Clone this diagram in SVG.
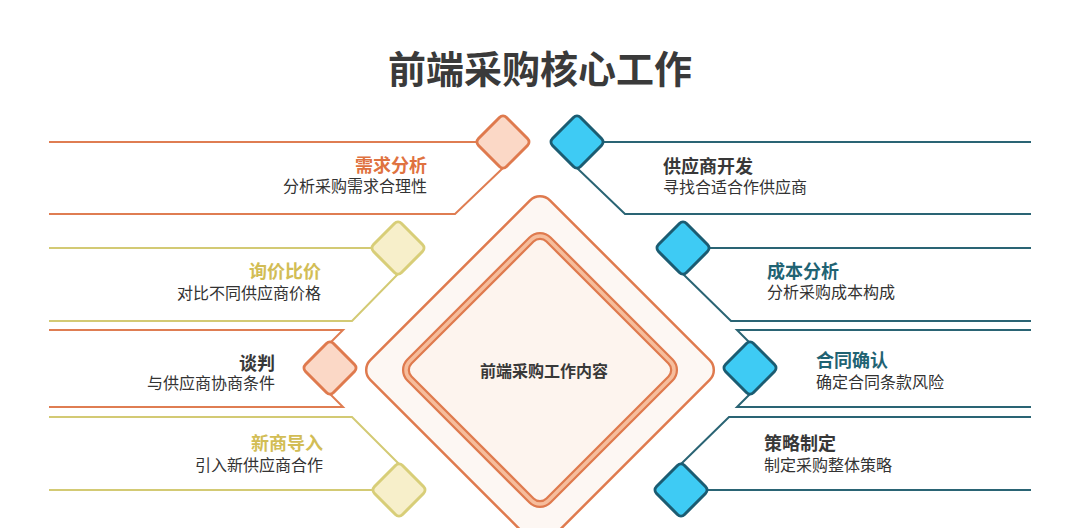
<svg xmlns="http://www.w3.org/2000/svg" xmlns:xlink="http://www.w3.org/1999/xlink" width="1080" height="528" viewBox="0 0 1080 528">
<style>
text{font-family:"Noto Sans CJK SC","Noto Sans",sans-serif}
.ttl{font-size:38px;font-weight:700;fill:#3a3a3a}
.h{font-size:18px;font-weight:700}
.s{font-size:16px;fill:#333}
.ho{fill:#df7240}.hy{fill:#d2bd55}.hd{fill:#383838}.ht{fill:#1f6373}
.lo{fill:none;stroke:#df7d52;stroke-width:2}
.ly{fill:none;stroke:#d3ca74;stroke-width:2}
.lt{fill:none;stroke:#2a6474;stroke-width:2}
.dor{fill:#fbd8c6;stroke:#df7a4e;stroke-width:3}
.dye{fill:#f7efca;stroke:#d8ce78;stroke-width:3}
.dte{fill:#3ecbf4;stroke:#1b5c72;stroke-width:3}
</style>
<defs>
<rect id="dm" x="-19.8" y="-19.8" width="39.6" height="39.6" rx="5" transform="rotate(45)"/>
</defs>
<rect width="1080" height="528" fill="#ffffff"/>
<text class="ttl" x="540" y="83" text-anchor="middle">前端采购核心工作</text>
<g id="connectors">
<polyline class="lo" points="49,142 477,142"/>
<polyline class="lo" points="49,214 455,214 503,168"/>
<polyline class="ly" points="49,248 372,248"/>
<polyline class="ly" points="49,321 352,321 398,274"/>
<polyline class="lo" points="49,330 343,330 330,343"/>
<polyline class="lo" points="49,407 343,407 330,394"/>
<polyline class="ly" points="49,417 352,417 399,464"/>
<polyline class="ly" points="49,490 373,490"/>
<polyline class="lt" points="603,142 1031,142"/>
<polyline class="lt" points="577,168 625,214 1031,214"/>
<polyline class="lt" points="709,248 1031,248"/>
<polyline class="lt" points="683,274 731,321 1031,321"/>
<polyline class="lt" points="1031,330 737,330 750,343"/>
<polyline class="lt" points="1031,407 737,407 750,394"/>
<polyline class="lt" points="681,464 729,417 1031,417"/>
<polyline class="lt" points="707,490 1031,490"/>
</g>
<g id="center">
<rect x="-127" y="-127" width="254" height="254" rx="14" transform="translate(540,370) rotate(45)" fill="#fdf7f3" stroke="#df7a4e" stroke-width="2.5"/>
<rect x="-98.3" y="-98.3" width="196.6" height="196.6" rx="12" transform="translate(540,370) rotate(45)" fill="#fdf4ee" stroke="#df7a4e" stroke-width="8"/>
<rect x="-98.3" y="-98.3" width="196.6" height="196.6" rx="12" transform="translate(540,370) rotate(45)" fill="none" stroke="#f6bd9c" stroke-width="3.5"/>
<text x="544" y="377" text-anchor="middle" font-size="16" font-weight="700" fill="#383838">前端采购工作内容</text>
</g>
<g id="n1">
<use xlink:href="#dm" x="503" y="142" class="dor"/>
<text class="h ho" x="427" y="172" text-anchor="end">需求分析</text>
<text class="s" x="427" y="192" text-anchor="end">分析采购需求合理性</text>
</g>
<g id="n2">
<use xlink:href="#dm" x="398" y="248" class="dye"/>
<text class="h hy" x="321" y="278" text-anchor="end">询价比价</text>
<text class="s" x="321" y="299" text-anchor="end">对比不同供应商价格</text>
</g>
<g id="n3">
<use xlink:href="#dm" x="330" y="368" class="dor"/>
<text class="h hd" x="275" y="370" text-anchor="end">谈判</text>
<text class="s" x="275" y="389" text-anchor="end">与供应商协商条件</text>
</g>
<g id="n4">
<use xlink:href="#dm" x="399" y="490" class="dye"/>
<text class="h hy" x="323" y="450" text-anchor="end">新商导入</text>
<text class="s" x="323" y="471" text-anchor="end">引入新供应商合作</text>
</g>
<g id="n5">
<use xlink:href="#dm" x="577" y="142" class="dte"/>
<text class="h hd" x="663" y="173">供应商开发</text>
<text class="s" x="663" y="193">寻找合适合作供应商</text>
</g>
<g id="n6">
<use xlink:href="#dm" x="683" y="248" class="dte"/>
<text class="h ht" x="767" y="278">成本分析</text>
<text class="s" x="767" y="298">分析采购成本构成</text>
</g>
<g id="n7">
<use xlink:href="#dm" x="750" y="368" class="dte"/>
<text class="h ht" x="816" y="367">合同确认</text>
<text class="s" x="816" y="388">确定合同条款风险</text>
</g>
<g id="n8">
<use xlink:href="#dm" x="681" y="490" class="dte"/>
<text class="h hd" x="764" y="450">策略制定</text>
<text class="s" x="764" y="471">制定采购整体策略</text>
</g>
</svg>
